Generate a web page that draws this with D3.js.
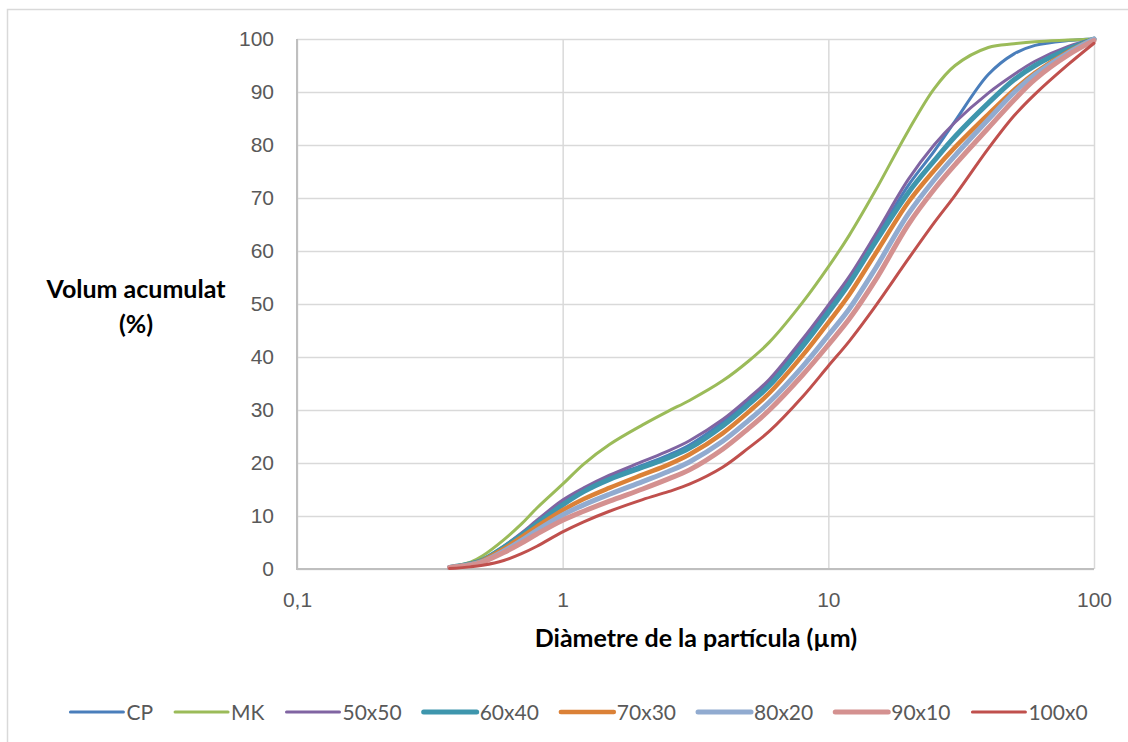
<!DOCTYPE html>
<html>
<head>
<meta charset="utf-8">
<script src="https://cdn.jsdelivr.net/npm/d3@7"></script>
<style>
  html, body { margin: 0; padding: 0; background: #fff; }
  svg { display: block; font-family: Lato, "Open Sans", sans-serif; }
</style>
</head>
<body>
<svg id="chart" width="1128" height="742"></svg>
<script>
// Particle diameters (µm) at which the cumulative volume was sampled
const diameters = [0.375, 0.45, 0.5, 0.6, 0.7, 0.8, 1, 1.2, 1.5, 2, 2.5, 3, 4, 5, 6, 8,
                   10, 12, 15, 20, 25, 30, 40, 50, 60, 80, 100];

// Cumulative volume (%) for each material / mix
const seriesNames = ["CP", "MK", "50x50", "60x40", "70x30", "80x20", "90x10", "100x0"];
const cp    = [0.3, 1.0, 1.7, 4.2, 6.6, 8.9, 12.5, 15.0, 17.3, 19.6, 21.5, 23.4, 27.7, 31.8, 35.4, 42.9,
               49.2, 54.5, 62.3, 72.4, 78.8, 84.5, 93.3, 97.2, 98.8, 99.7, 100];
const mk    = [0.4, 1.3, 2.5, 5.5, 8.5, 11.5, 16.0, 19.8, 23.5, 27.2, 29.8, 31.8, 35.5, 39.2, 42.8, 50.3,
               57.0, 63.0, 71.3, 82.7, 90.6, 95.0, 98.4, 99.1, 99.5, 99.8, 100];
const m5050 = [0.3, 1.1, 1.8, 4.3, 6.8, 9.2, 13.0, 15.3, 17.7, 20.3, 22.3, 24.2, 28.2, 32.2, 35.8, 43.4,
               49.8, 55.2, 63.0, 73.5, 80.0, 84.3, 89.8, 93.3, 95.8, 98.6, 100];
const m6040 = [0.3, 1.0, 1.7, 4.1, 6.4, 8.6, 12.1, 14.6, 16.9, 19.2, 21.0, 22.8, 27.0, 31.0, 34.6, 42.0,
               48.4, 53.9, 61.6, 71.0, 77.0, 81.6, 87.9, 92.3, 95.0, 98.1, 100];
const m7030 = [0.3, 0.9, 1.6, 3.8, 6.0, 8.0, 11.1, 13.2, 15.3, 17.8, 19.7, 21.6, 25.6, 29.6, 33.2, 40.3,
               46.5, 51.8, 59.4, 69.2, 75.2, 79.6, 85.8, 90.4, 93.6, 97.6, 100];
const m8020 = [0.3, 0.8, 1.4, 3.4, 5.4, 7.3, 10.2, 12.1, 14.1, 16.5, 18.4, 20.2, 24.1, 28.0, 31.5, 38.2,
               44.1, 49.1, 56.6, 67.0, 73.4, 78.0, 84.8, 89.9, 93.3, 97.4, 100];
const m9010 = [0.3, 0.7, 1.3, 3.1, 4.9, 6.6, 9.2, 10.9, 12.8, 15.1, 17.0, 18.7, 22.6, 26.5, 30.0, 36.6,
               42.3, 47.2, 54.4, 65.0, 71.6, 76.3, 83.2, 88.5, 92.4, 97.0, 99.7];
const m1000 = [0.1, 0.4, 0.7, 1.6, 2.9, 4.3, 7.0, 8.9, 10.9, 13.1, 14.6, 16.0, 19.2, 22.8, 26.0, 32.5,
               38.3, 43.0, 49.5, 58.5, 65.3, 70.5, 79.3, 85.5, 89.6, 95.2, 99.2];
const seriesValues = [cp, mk, m5050, m6040, m7030, m8020, m9010, m1000];

const seriesColors = ["#4a7ebb", "#9bbb59", "#8064a2", "#3e96ad", "#db8137", "#91abd0", "#d49190", "#c0504d"];
const seriesWidths = [3, 3, 3, 5, 4.5, 5, 5, 3];

// Axis ticks
const xTickValues = [0.1, 1, 10, 100];
const xTickLabels = ["0,1", "1", "10", "100"];
const yTickValues = [0, 10, 20, 30, 40, 50, 60, 70, 80, 90, 100];
const yTickLabels = ["0", "10", "20", "30", "40", "50", "60", "70", "80", "90", "100"];

const svg = d3.select("#chart");
const plot = { left: 297, right: 1094, top: 39, bottom: 569 };
const textColor = "#595959";
const tickFont = "21px";
const titleFont = "25px";

// Chart frame
svg.append("rect")
  .attr("x", 7.5).attr("y", 9.5)
  .attr("width", 1140).attr("height", 760)
  .attr("fill", "none").attr("stroke", "#d9d9d9").attr("stroke-width", 1.5);

const x = d3.scaleLog().domain([0.1, 100]).range([plot.left, plot.right]);
const y = d3.scaleLinear().domain([0, 100]).range([plot.bottom, plot.top]);

// Horizontal gridlines + y labels
const yAxis = d3.axisLeft(y)
  .tickValues(yTickValues)
  .tickFormat((d, i) => yTickLabels[i])
  .tickSize(-(plot.right - plot.left))
  .tickPadding(23);
const gy = svg.append("g").attr("transform", `translate(${plot.left},0)`).call(yAxis);
gy.select(".domain").remove();
gy.selectAll(".tick line").attr("stroke", "#d9d9d9").attr("stroke-width", 1.5);
gy.selectAll(".tick text").attr("fill", textColor).style("font-size", tickFont);

// Vertical gridlines + x labels
const xAxis = d3.axisBottom(x)
  .tickValues(xTickValues)
  .tickFormat((d, i) => xTickLabels[i])
  .tickSize(-(plot.bottom - plot.top))
  .tickPadding(23);
const gx = svg.append("g").attr("transform", `translate(0,${plot.bottom})`).call(xAxis);
gx.select(".domain").remove();
gx.selectAll(".tick line").attr("stroke", "#d9d9d9").attr("stroke-width", 1.5);
gx.selectAll(".tick text").attr("fill", textColor).style("font-size", tickFont)
  .attr("y", 23).attr("dy", "0.71em");

// Axis lines
svg.append("line")
  .attr("x1", plot.left).attr("x2", plot.left)
  .attr("y1", plot.top).attr("y2", plot.bottom + 1)
  .attr("stroke", "#bfbfbf").attr("stroke-width", 2);
svg.append("line")
  .attr("x1", plot.left - 1).attr("x2", plot.right)
  .attr("y1", plot.bottom).attr("y2", plot.bottom)
  .attr("stroke", "#bfbfbf").attr("stroke-width", 2);

// Cumulative curves, smoothed through the sampled points
const line = d3.line()
  .x(d => x(d[0]))
  .y(d => y(d[1]))
  .curve(d3.curveCatmullRom.alpha(0.5));

const curves = svg.append("g");
seriesValues.forEach((vals, i) => {
  curves.append("path")
    .datum(diameters.map((d, j) => [d, vals[j]]))
    .attr("d", line)
    .attr("fill", "none")
    .attr("stroke", seriesColors[i])
    .attr("stroke-width", seriesWidths[i])
    .attr("stroke-linejoin", "round")
    .attr("stroke-linecap", "round");
});

// Axis titles
svg.append("text")
  .attr("x", 696).attr("y", 647)
  .attr("text-anchor", "middle")
  .attr("fill", "#000").style("font-size", titleFont).style("font-weight", "bold")
  .text("Diàmetre de la partícula (µm)");

const yTitle = svg.append("text")
  .attr("text-anchor", "middle")
  .attr("fill", "#000").style("font-size", titleFont).style("font-weight", "bold");
yTitle.append("tspan").attr("x", 136).attr("y", 298).text("Volum acumulat");
yTitle.append("tspan").attr("x", 136).attr("y", 333).text("(%)");

// Legend
const legend = svg.append("g");
const sampleLen = 53, sampleGap = 3, itemGap = 22;
let cursor = 0;
seriesNames.forEach((name, i) => {
  const g = legend.append("g").attr("transform", `translate(${cursor},0)`);
  g.append("line")
    .attr("x1", 0).attr("x2", sampleLen)
    .attr("y1", 0).attr("y2", 0)
    .attr("stroke", seriesColors[i])
    .attr("stroke-width", seriesWidths[i])
    .attr("stroke-linecap", "round");
  const t = g.append("text")
    .attr("x", sampleLen + sampleGap).attr("y", 7.5)
    .attr("fill", textColor).style("font-size", tickFont)
    .text(name);
  cursor += sampleLen + sampleGap + t.node().getComputedTextLength() + itemGap;
});
const legendWidth = cursor - itemGap;
legend.attr("transform", `translate(${579 - legendWidth / 2},712)`);
</script>
</body>
</html>
